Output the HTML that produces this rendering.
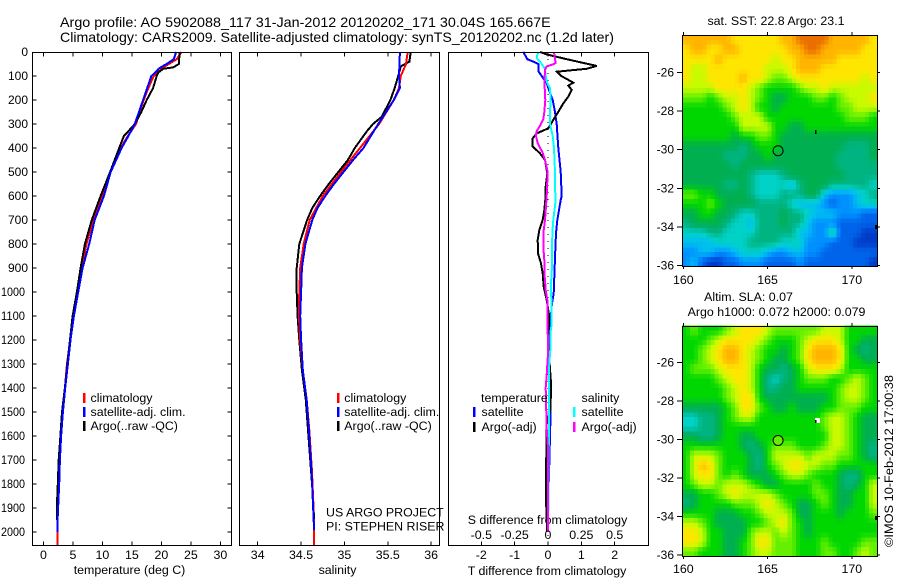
<!DOCTYPE html>
<html lang="en">
<head>
<meta charset="utf-8">
<title>Argo profile</title>
<style>
html,body{margin:0;padding:0;background:#fff;}
svg{display:block;}
text{font-family:"Liberation Sans",sans-serif;font-size:12.4px;fill:#000;}
</style>
</head>
<body>
<svg id="chart" xmlns="http://www.w3.org/2000/svg" width="900" height="580" viewBox="0 0 900 580">
<text x="60" y="27" style="font-size:14px" textLength="490.7" lengthAdjust="spacingAndGlyphs">Argo profile: AO 5902088_117 31-Jan-2012 20120202_171 30.04S 165.667E</text>
<text x="60" y="42" style="font-size:14px" textLength="554" lengthAdjust="spacingAndGlyphs">Climatology: CARS2009. Satellite-adjusted climatology: synTS_20120202.nc (1.2d later)</text>
<text x="776" y="25" text-anchor="middle">sat. SST: 22.8 Argo: 23.1</text>
<text x="748.5" y="301" text-anchor="middle">Altim. SLA: 0.07</text>
<text x="776.5" y="316" text-anchor="middle">Argo h1000: 0.072 h2000: 0.079</text>
<text transform="translate(893,547) rotate(-90)" textLength="172" lengthAdjust="spacingAndGlyphs">©IMOS 10-Feb-2012 17:00:38</text>
<text x="129.5" y="574" text-anchor="middle">temperature (deg C)</text>
<text x="337.5" y="574" text-anchor="middle">salinity</text>
<text x="547" y="575" text-anchor="middle">T difference from climatology</text>
<text x="547.5" y="524" text-anchor="middle">S difference from climatology</text>
<text x="326" y="516.5">US ARGO PROJECT</text>
<text x="326" y="530.5">PI: STEPHEN RISER</text>
</svg>
<script>
// ---------- axis tick labels ----------
const depthTicks = [0,100,200,300,400,500,600,700,800,900,1000,1100,1200,1300,1400,1500,1600,1700,1800,1900,2000];
const tempTicks = [0,5,10,15,20,25,30];
const salTicks = [34,34.5,35,35.5,36];
const tDiffTicks = [-2,-1,0,1,2];
const sDiffTicks = [-0.5,-0.25,0,0.25,0.5];
const lonTicks = [160,165,170];
const latTicks = [-26,-28,-30,-32,-34,-36];

// ---------- temperature panel ----------
const tempClimDepth = [0,30,60,80,100,150,200,300,350,400,500,600,700,800,900,1000,1100,1200,1300,1400,1500,1600,1700,1800,1900,2000,2054];
const tempClimValue = [23.4,22.6,20.6,19.6,18.7,17.8,17,15.7,14.3,13.1,11.3,10,8.45,7.3,6.45,5.8,5.07,4.55,4,3.65,3.25,2.95,2.75,2.6,2.45,2.35,2.35];
const tempSatDepth = [0,30,50,60,70,80,100,150,200,300,350,400,500,600,700,800,900,1000,1100,1200,1300,1400,1500,1600,1700,1800,1900,1950,2000];
const tempSatValue = [22.5,22.1,20.9,20.15,19.5,19.2,18.3,17.6,16.9,15.5,14.4,13.25,11.4,10.25,8.7,7.77,6.65,5.9,5.17,4.6,4.15,3.7,3.3,3,2.8,2.67,2.5,2.4,2.4];
const tempArgoDepth = [0,50,64,70,85,100,150,200,250,300,330,350,400,500,600,700,800,900,1000,1100,1200,1300,1400,1500,1600,1700,1800,1900,1950];
const tempArgoValue = [23.08,22.97,22,20.3,19.5,19.2,18.6,17.5,16.6,15.5,14.4,13.65,12.85,11.3,9.7,8.2,7.03,6.3,5.68,4.95,4.5,4.05,3.65,3.15,2.88,2.6,2.44,2.27,2.27];

// ---------- salinity panel ----------
const salClimDepth = [0,50,100,150,200,300,400,500,600,700,800,900,1000,1100,1200,1325,1450,1575,1742,1867,1992,2054];
const salClimValue = [35.73,35.71,35.65,35.63,35.57,35.4,35.18,34.96,34.75,34.6,34.53,34.49,34.48,34.475,34.49,34.52,34.565,34.595,34.625,34.64,34.65,34.65];
const salSatDepth = [0,100,150,200,300,400,450,500,550,600,650,700,800,900,1000,1100,1200,1325,1450,1575,1742,1867,1992];
const salSatValue = [35.64,35.63,35.64,35.57,35.39,35.22,35.1,34.99,34.88,34.78,34.69,34.63,34.55,34.51,34.5,34.49,34.5,34.52,34.565,34.59,34.62,34.635,34.65];
const salArgoDepth = [0,40,50,60,100,150,200,270,300,330,400,450,500,550,600,650,700,800,900,1000,1100,1200,1325,1450,1575,1742,1867,1950];
const salArgoValue = [35.765,35.75,35.7,35.65,35.62,35.58,35.53,35.43,35.33,35.26,35.12,35.04,34.93,34.82,34.72,34.63,34.57,34.48,34.45,34.45,34.46,34.48,34.51,34.555,34.58,34.615,34.64,34.65];

// ---------- difference panel ----------
const tDiffSatDepth = [0,20,30,40,50,80,100,130,150,200,250,300,400,500,600,617,700,756,825,936,1006,1047,1145,1300,1450,1550,1715,1900,2000];
const tDiffSatValue = [-0.74,-0.66,-0.62,-0.44,-0.29,-0.29,-0.19,-0.04,0.01,0.14,0.21,0.26,0.31,0.38,0.41,0.38,0.28,0.24,0.22,0.19,0.17,0.12,0.06,0.05,0.07,0.07,0.04,0,0];
const tDiffArgoDepth = [0,10,30,58,70,82,100,128,140,158,186,214,249,283,318,339,360,394,422,450,506,575,617,659,700,742,783,839,881,922,978,1033,1103,1200,1380,1420,1490,1550,1770,1870,2000];
const tDiffArgoValue = [-0.24,-0.04,0.56,1.46,1.16,0.26,0.4,0.76,0.61,0.71,0.61,0.46,0.31,0.16,0.01,-0.34,-0.46,-0.46,-0.24,-0.09,-0.02,-0.08,-0.08,-0.11,-0.16,-0.26,-0.31,-0.3,-0.21,-0.16,-0.13,-0.04,0.04,0,0.09,0.09,0.07,-0.04,-0.06,-0.06,-0.02];
const sDiffSatDepth = [0,20,30,40,70,100,130,150,200,250,300,350,400,500,600,617,700,756,894,964,1033,1145,1172,1242,1311,1500,1900,2000];
const sDiffSatValue = [-0.0725,-0.085,-0.08,-0.06,-0.0225,-0.0175,-0.005,0.015,0.02,0.015,0.015,0.035,0.045,0.0525,0.055,0.0575,0.04,0.0325,0.03,0.0225,0.025,0.025,0.0175,0.0175,0.0075,0.0075,0.0025,0];
const sDiffArgoDepth = [0,30,45,50,60,75,100,150,200,250,280,300,330,350,380,420,450,500,600,700,756,811,867,936,992,1033,1158,1256,1325,1400,1570,1650,2000];
const sDiffArgoValue = [0.045,0.0525,0.0575,0.045,-0.01,-0.0225,-0.025,-0.025,-0.02,-0.0275,-0.035,-0.0525,-0.085,-0.09,-0.0775,-0.04,-0.0225,-0.0025,-0.01,-0.0225,-0.035,-0.035,-0.0275,-0.025,-0.0175,-0.005,-0.0025,0,-0.0075,-0.0175,-0.01,0,0];
const zeroLineDepth = [0,2054];

// ---------- map positions ----------
const profileLon = 165.667;
const profileLat = -30.04;

// ---------- SST map colour levels (rows north to south) ----------
const sstLevels = [
[11,11,11,11,11,11,10,10,10,10,10,10,11,11,12,12,12,12,11,11,11,11,11,10],
[10,11,11,10,10,11,11,10,10,10,10,10,10,11,11,12,12,11,11,11,11,11,10,10],
[10,10,10,10,11,10,10,10,10,10,10,9,10,10,11,11,11,11,11,10,10,10,10,10],
[10,9,9,10,10,10,10,10,10,10,9,9,9,10,11,11,11,10,10,10,10,10,10,10],
[10,9,9,10,10,10,10,11,10,10,9,8,8,9,10,10,10,10,10,10,10,10,9,10],
[9,9,9,9,10,10,10,10,9,8,7,7,7,7,8,9,9,10,9,9,9,9,9,9],
[8,8,8,7,8,9,9,10,9,8,7,6,6,7,7,7,8,8,7,8,9,9,9,10],
[7,7,7,7,7,8,9,10,9,7,7,6,7,7,7,7,7,7,7,8,8,9,9,9],
[7,7,7,7,7,7,8,9,9,9,7,7,7,7,7,7,7,7,7,7,8,8,8,7],
[7,7,7,7,7,7,7,9,9,9,9,7,7,6,6,7,7,7,7,7,7,7,7,7],
[7,7,7,7,7,7,6,7,7,8,8,7,6,6,6,6,6,6,6,6,6,6,6,6],
[6,6,6,6,6,6,6,5,6,7,7,7,6,6,6,6,6,6,6,6,5,5,5,6],
[6,6,6,6,6,5,5,5,6,6,7,6,6,6,6,6,6,6,6,5,5,5,5,6],
[6,6,6,6,6,6,5,6,6,6,6,6,6,6,6,6,6,6,6,5,5,5,5,5],
[6,6,6,6,6,6,6,6,5,4,4,4,5,6,6,6,6,6,6,6,5,5,5,5],
[6,6,6,6,6,5,5,6,5,4,4,4,4,3,5,6,6,6,5,5,5,5,5,4],
[8,8,7,7,6,6,6,6,5,4,4,4,5,5,5,6,6,3,2,2,2,3,4,5],
[7,7,7,8,7,6,6,6,6,5,5,5,5,4,3,3,3,2,1,2,2,3,4,4],
[6,6,7,7,6,6,5,4,4,5,5,5,6,5,5,4,3,3,3,2,2,2,1,1],
[5,6,6,6,6,5,4,4,3,5,5,5,6,5,5,3,2,2,2,1,1,1,1,1],
[4,4,4,5,5,4,4,4,4,5,5,5,5,5,3,3,2,2,5,1,1,1,0,0],
[3,3,3,3,4,4,4,4,5,5,5,5,4,4,4,2,2,2,1,1,1,0,0,0],
[2,2,3,3,2,2,3,4,4,4,3,2,2,3,3,2,2,1,1,1,1,1,1,1],
[2,3,1,0,0,1,1,2,2,2,1,1,1,1,2,1,1,1,1,1,1,1,1,0]
];

// ---------- SLA map colour levels (rows north to south) ----------
const slaLevels = [
[7,8,7,7,7,8,9,10,10,10,9,8,8,8,8,8,8,9,9,9,7,7,7,7],
[7,7,7,8,9,10,10,10,10,9,8,7,7,7,8,9,10,10,10,9,7,7,6,6],
[7,7,8,9,10,11,11,10,9,8,7,7,6,7,8,10,11,11,11,10,7,6,5,6],
[7,7,8,9,10,11,11,10,9,8,7,6,6,7,8,10,11,11,11,10,7,7,6,6],
[7,8,8,8,9,10,10,10,9,7,6,6,5,6,7,9,10,10,10,9,7,7,7,7],
[7,7,7,7,8,9,10,10,9,7,5,4,5,6,7,8,8,8,7,7,8,9,8,7],
[7,7,7,7,7,8,9,10,9,7,5,5,6,6,7,7,7,7,7,8,9,9,8,7],
[7,7,7,7,7,8,9,10,10,7,6,6,6,6,6,6,6,6,7,8,9,9,8,7],
[6,6,6,6,6,7,8,10,10,8,7,6,6,7,6,6,6,7,7,8,8,8,7,7],
[4,4,5,5,6,7,8,9,9,7,7,7,7,7,7,7,7,8,9,9,8,7,6,6],
[4,4,5,5,6,7,7,7,7,7,7,7,7,7,7,7,7,8,9,9,8,7,6,6],
[6,6,5,5,6,7,7,6,6,7,7,7,7,7,7,7,7,7,9,9,8,7,6,6],
[7,7,7,7,7,7,7,6,5,6,7,8,8,8,7,7,7,8,9,9,8,7,6,5],
[7,9,9,9,8,7,7,7,6,5,7,9,9,9,9,8,9,9,9,8,8,7,6,5],
[7,9,11,10,8,7,7,7,6,5,7,8,9,10,10,9,9,8,8,7,7,7,7,7],
[7,9,10,10,8,7,8,7,6,6,6,7,8,9,9,8,7,7,7,6,5,5,7,7],
[7,8,9,9,8,9,9,9,8,7,6,6,7,7,7,7,8,7,7,6,5,6,7,9],
[6,6,7,7,8,9,10,9,9,9,9,8,7,7,7,7,8,8,7,6,6,7,7,9],
[5,6,7,7,7,7,8,8,8,9,10,9,8,7,6,6,7,8,7,6,6,7,7,9],
[7,7,7,7,6,6,6,7,7,8,9,9,9,8,6,6,7,7,7,6,7,7,7,8],
[9,9,8,7,6,6,6,6,7,7,8,9,10,8,7,6,7,7,7,7,7,7,7,7],
[10,10,9,7,7,6,6,6,8,9,9,8,9,8,7,6,7,7,7,7,7,7,7,7],
[10,10,9,7,7,6,6,7,8,10,10,8,8,8,7,7,7,8,7,7,7,7,8,8],
[8,8,7,7,7,6,6,7,8,9,9,8,8,8,7,7,7,8,8,7,7,8,9,8]
];

// ---------- rendering ----------
const svg = document.getElementById('chart');
const NS = 'http://www.w3.org/2000/svg';
const palette = [[0,60,200],[0,100,235],[0,145,255],[0,190,240],[0,210,200],[0,180,130],[0,175,80],[0,215,0],[100,240,0],[200,250,0],[255,230,0],[255,180,0],[235,110,0]];

function levelColor(v) {
  const c = Math.max(0, Math.min(palette.length - 1, v));
  const i = Math.min(palette.length - 2, Math.floor(c));
  const f = c - i;
  const rgb = palette[i].map((a, k) => Math.round(a + (palette[i + 1][k] - a) * f));
  return 'rgb(' + rgb.join(',') + ')';
}
function el(tag, attrs, parent) {
  const n = document.createElementNS(NS, tag);
  for (const k in attrs) n.setAttribute(k, attrs[k]);
  (parent || svg).appendChild(n);
  return n;
}
function label(str, x, y, anchor, parent) {
  const t = el('text', {x: x, y: y, 'text-anchor': anchor || 'middle'}, parent);
  t.textContent = str;
  return t;
}
function line(x1, y1, x2, y2, parent) {
  return el('line', {x1: x1, y1: y1, x2: x2, y2: y2, stroke: '#000', 'stroke-width': 1, 'shape-rendering': 'crispEdges'}, parent);
}

// axis functions
const yDepth = d => 52 + 0.24 * d;
const xTemp = v => 43.4 + 5.9 * v;
const xSal = v => 257.7 + 86.7 * (v - 34);
const xTDiff = v => 548 + 33.35 * v;
const xSDiff = v => 548 + 133.4 * v;

const panels = [
  {name: 'temperature', left: 32.5, right: 231.5},
  {name: 'salinity', left: 239.5, right: 439.5},
  {name: 'difference', left: 448.5, right: 648.5}
];
const panelTop = 52.5;
const panelBottom = 545.5;

function drawSeries(name, depths, values, xFn, color, width, parent) {
  const pts = depths.map((d, i) => xFn(values[i]).toFixed(1) + ',' + yDepth(d).toFixed(1)).join(' ');
  const p = el('polyline', {points: pts, fill: 'none', stroke: color, 'stroke-width': width, 'stroke-linejoin': 'miter', 'shape-rendering': 'crispEdges'}, parent);
  
  
  return p;
}

// temperature series
const gTemp = el('g', {});


drawSeries('temperature-climatology-line', tempClimDepth, tempClimValue, xTemp, '#ff0000', 2, gTemp);
drawSeries('temperature-argo-line', tempArgoDepth, tempArgoValue, xTemp, '#000000', 2, gTemp);
drawSeries('temperature-satellite-line', tempSatDepth, tempSatValue, xTemp, '#0000ff', 2, gTemp);

// salinity series
const gSal = el('g', {});


drawSeries('salinity-argo-line', salArgoDepth, salArgoValue, xSal, '#000000', 2, gSal);
drawSeries('salinity-climatology-line', salClimDepth, salClimValue, xSal, '#ff0000', 2, gSal);
drawSeries('salinity-satellite-line', salSatDepth, salSatValue, xSal, '#0000ff', 2, gSal);

// difference series
const gDiff = el('g', {});


const zeroLine = el('line', {x1: xTDiff(0), y1: yDepth(zeroLineDepth[0]), x2: xTDiff(0), y2: yDepth(zeroLineDepth[1]), stroke: '#000', 'stroke-width': 1, 'stroke-dasharray': '1 6', 'shape-rendering': 'crispEdges'}, gDiff);


drawSeries('t-difference-satellite-line', tDiffSatDepth, tDiffSatValue, xTDiff, '#0000ff', 2, gDiff);
drawSeries('t-difference-argo-line', tDiffArgoDepth, tDiffArgoValue, xTDiff, '#000000', 2, gDiff);
drawSeries('s-difference-satellite-line', sDiffSatDepth, sDiffSatValue, xSDiff, '#00ffff', 2, gDiff);
drawSeries('s-difference-argo-line', sDiffArgoDepth, sDiffArgoValue, xSDiff, '#ff00ff', 2, gDiff);

// frames
panels.forEach(p => {
  const r = el('rect', {x: p.left, y: panelTop, width: p.right - p.left, height: panelBottom - panelTop, fill: 'none', stroke: '#000', 'stroke-width': 1, 'shape-rendering': 'crispEdges'});
  
  
});

// depth axis
const depthAxis = el('g', {});


depthTicks.forEach(d => {
  const y = yDepth(d);
  if (d > 0) {
    const a = line(32.5, y, 36.5, y, depthAxis);
    
    
    const b = line(227.5, y, 231.5, y, depthAxis);
    
    
  }
  const t = label(String(d), d >= 1000 ? 25 : 28, y + 4, 'end', depthAxis);
  t.style.fontSize = '12px';
  if (d >= 1000) t.setAttribute('textLength', '24');
  if (d >= 1000) t.setAttribute('lengthAdjust', 'spacingAndGlyphs');
  
  
});

function drawXAxis(name, ticks, xFn, baseline) {
  const g = el('g', {});
  
  
  ticks.forEach(v => {
    const x = xFn(v);
    const a = line(x, panelTop, x, panelTop + 4, g);
    
    
    const b = line(x, panelBottom - 4, x, panelBottom, g);
    
    
    const t = label(String(v), x, baseline, 'middle', g);
    
    
  });
}
drawXAxis('temperature-axis', tempTicks, xTemp, 559);
drawXAxis('salinity-axis', salTicks, xSal, 559);
drawXAxis('t-difference-axis', tDiffTicks, xTDiff, 559);
const sAxis = el('g', {});


sDiffTicks.forEach(v => {
  const t = label(String(v), xSDiff(v), 539, 'middle', sAxis);
  
  
});

// legends
function legendEntry(parent, text, swatchX, textX, base, color) {
  const s = el('rect', {x: swatchX, y: base - 9, width: 2.5, height: 10, fill: color, 'shape-rendering': 'crispEdges'}, parent);
  
  
  const t = label(text, textX, base, 'start', parent);
  
  
}
const legendT = el('g', {});


legendEntry(legendT, 'climatology', 83, 90.5, 402, '#ff0000');
legendEntry(legendT, 'satellite-adj. clim.', 83, 90.5, 416, '#0000ff');
legendEntry(legendT, 'Argo(..raw -QC)', 83, 90.5, 430, '#000000');
const legendS = el('g', {});


legendEntry(legendS, 'climatology', 337, 344.3, 402, '#ff0000');
legendEntry(legendS, 'satellite-adj. clim.', 337, 344.3, 416, '#0000ff');
legendEntry(legendS, 'Argo(..raw -QC)', 337, 344.3, 430, '#000000');
const legendD = el('g', {});


const lt1 = label('temperature', 481, 402, 'start', legendD);


const lt2 = label('salinity', 581.5, 402, 'start', legendD);


legendEntry(legendD, 'satellite', 473, 481.5, 416, '#0000ff');
legendEntry(legendD, 'Argo(-adj)', 473, 481.5, 431, '#000000');
legendEntry(legendD, 'satellite', 573, 581.5, 416, '#00ffff');
legendEntry(legendD, 'Argo(-adj)', 573, 581.5, 431, '#ff00ff');

// maps: each grid value is shaded across 2x2 screen cells, like pcolor with interpolated shading
const mapLonMin = 159.92;
const mapLonMax = 171.51;
const shadeSteps = 2;
function sampleGrid(levels, u, v) {
  const rows = levels.length;
  const cols = levels[0].length;
  const x = Math.max(0, Math.min(cols - 1, u * cols - 0.5));
  const y = Math.max(0, Math.min(rows - 1, v * rows - 0.5));
  const x0 = Math.floor(x);
  const y0 = Math.floor(y);
  const x1 = Math.min(cols - 1, x0 + 1);
  const y1 = Math.min(rows - 1, y0 + 1);
  const fx = x - x0;
  const fy = y - y0;
  return (levels[y0][x0] * (1 - fx) + levels[y0][x1] * fx) * (1 - fy) + (levels[y1][x0] * (1 - fx) + levels[y1][x1] * fx) * fy;
}
function drawMap(name, levels, left, right, top, bottom, yLat, xLabelBase, latMin, latMax, circleFill) {
  const xLon = v => 683.3 + 16.85 * (v - 160);
  const g = el('g', {});
  
  
  const nRows = levels.length * shadeSteps;
  const nCols = levels[0].length * shadeSteps;
  for (let r = 0; r < nRows; r++) {
    for (let c = 0; c < nCols; c++) {
      const lonA = mapLonMin + (mapLonMax - mapLonMin) * c / nCols;
      const lonB = mapLonMin + (mapLonMax - mapLonMin) * (c + 1) / nCols;
      const latA = latMax + (latMin - latMax) * r / nRows;
      const latB = latMax + (latMin - latMax) * (r + 1) / nRows;
      const v = sampleGrid(levels, (c + 0.5) / nCols, (r + 0.5) / nRows);
      const cell = el('rect', {x: xLon(lonA), y: yLat(latA), width: xLon(lonB) - xLon(lonA) + 0.5, height: yLat(latB) - yLat(latA) + 0.5, fill: levelColor(v), 'shape-rendering': 'crispEdges'}, g);
      
      
    }
  }
  const frame = el('rect', {x: left + 0.5, y: top + 0.5, width: right - left, height: bottom - top, fill: 'none', stroke: '#000', 'stroke-width': 0.6, 'shape-rendering': 'crispEdges'}, g);
  
  
  lonTicks.forEach(v => {
    const x = xLon(v);
    const a = line(x, top - 3, x, top, g);
    
    
    const b = line(x, bottom, x, bottom + 3, g);
    
    
    const t = label(String(v), x, xLabelBase, 'middle', g);
    
    
  });
  latTicks.forEach(v => {
    const y = yLat(v);
    const a = line(left - 5, y, left, y, g);
    
    
    const b = line(right, y, right + 3, y, g);
    
    
    const t = label(String(v), left - 8, y + 4, 'end', g);
    t.style.fontSize = '12px';
    
    
  });
  const marker = el('circle', {cx: xLon(profileLon) - 0.7, cy: yLat(profileLat) + 0.3, r: 5, fill: circleFill, stroke: '#000', 'stroke-width': 1}, g);
  
  
  return g;
}
const ySst = v => 72.3 + 19.34 * (-26 - v);
const ySla = v => 362.3 + 19.27 * (-26 - v);
const sstMap = drawMap('sst-map', sstLevels, 682, 877, 35, 266, ySst, 284, -36.05, -24.07, 'none');
const slaMap = drawMap('sla-map', slaLevels, 682, 877, 326, 556, ySla, 573, -36.08, -24.1, 'rgb(100,240,0)');

// small float markers on the maps
const m1 = el('rect', {x: 815, y: 130, width: 1.5, height: 4, fill: '#000', 'shape-rendering': 'crispEdges'}, sstMap);


const m2 = el('rect', {x: 875, y: 225, width: 2, height: 4, fill: '#000', 'shape-rendering': 'crispEdges'}, sstMap);


const m3 = el('rect', {x: 815, y: 418, width: 5, height: 5, fill: '#fff', 'shape-rendering': 'crispEdges'}, slaMap);


const m4 = el('rect', {x: 815, y: 420, width: 1.5, height: 3, fill: '#000', 'shape-rendering': 'crispEdges'}, slaMap);


const m5 = el('rect', {x: 875, y: 516, width: 2, height: 4, fill: '#000', 'shape-rendering': 'crispEdges'}, slaMap);


</script>
</body>
</html>
